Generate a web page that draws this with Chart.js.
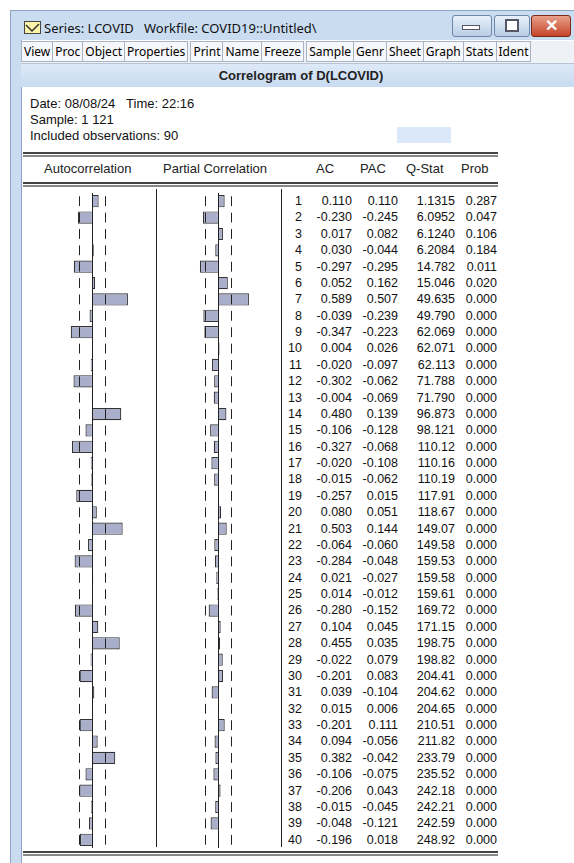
<!DOCTYPE html>
<html><head><meta charset="utf-8">
<script src="https://cdn.jsdelivr.net/npm/chart.js@4"></script>
<style>
body{margin:0;width:574px;height:863px;background:#fff;font-family:"Liberation Sans",Arial,sans-serif;position:relative;overflow:hidden}
.abs{position:absolute}
#frame{left:10px;top:10px;width:570px;height:860px;background:#c9dcf0;border:1px solid #8aa4c4}
#inner{left:21px;top:40px;width:560px;height:830px;background:#fff;border-left:1px solid #8aa4c4}
#title{left:44px;top:19px;font-family:"Noto Sans",sans-serif;font-size:13px;color:#111}
#tool{left:21px;top:41px;width:560px;height:22px;background:#eef1f6;border-bottom:1px solid #b8c4d4;font-family:"Noto Sans",sans-serif;font-size:12px}
#tool span{display:inline-block;border:1px solid #a8b4c4;padding:1px 2px;margin-right:-1px;height:17px;line-height:17px;background:#f6f7fa}
#head{left:21px;top:64px;width:560px;height:23px;background:linear-gradient(#dde9f7,#c8dbf1);font-weight:bold;font-size:13px;text-align:center;line-height:23px;color:#222}
.info{font-size:13px;left:30px;color:#111}
.dl{left:23px;width:475px;height:1px;border-top:2px solid #444;border-bottom:2px solid #888;height:1px}
.hdr{top:161px;font-size:13px;color:#222}
.row{font-size:12.5px;color:#111;text-align:right}
canvas{position:absolute}
</style></head><body>
<div class="abs" id="frame"></div>
<div class="abs" id="inner"></div>
<svg class="abs" style="left:24px;top:21px" width="18" height="14"><rect x="0.5" y="0.5" width="16" height="12" fill="#fbf3a8" stroke="#444"/><polyline points="2,4 8,10 15,3" fill="none" stroke="#333" stroke-width="1.5"/></svg>
<div class="abs" id="title">Series: LCOVID&nbsp;&nbsp;&nbsp;Workfile: COVID19::Untitled\</div>
<div class="abs" style="left:452px;top:15px;width:38px;height:20px;border:1px solid #6d86a8;border-radius:3px;background:linear-gradient(#e8f0fa,#b9cde6)"></div>
<div class="abs" style="left:462px;top:25px;width:16px;height:3px;background:#fff;border:1px solid #556"></div>
<div class="abs" style="left:494px;top:15px;width:34px;height:20px;border:1px solid #6d86a8;border-radius:3px;background:linear-gradient(#e8f0fa,#b9cde6)"></div>
<div class="abs" style="left:505px;top:19px;width:10px;height:9px;border:2px solid #556;background:#fff"></div>
<div class="abs" style="left:531px;top:15px;width:38px;height:20px;border:1px solid #7a2a1a;border-radius:3px;background:linear-gradient(#e8a08a,#c5442a);color:#fff;font-weight:bold;font-size:16px;text-align:center;line-height:20px">✕</div>
<div class="abs" id="tool"><span>View</span><span>Proc</span><span>Object</span><span>Properties</span>&nbsp;<span>Print</span><span>Name</span><span>Freeze</span>&nbsp;<span>Sample</span><span>Genr</span><span>Sheet</span><span>Graph</span><span>Stats</span><span>Ident</span></div>
<div class="abs" id="head">Correlogram of D(LCOVID)</div>
<div class="abs info" style="top:96px">Date: 08/08/24&nbsp;&nbsp;&nbsp;Time: 22:16</div>
<div class="abs info" style="top:112px">Sample: 1 121</div>
<div class="abs info" style="top:128px">Included observations: 90</div>
<div class="abs" style="left:397px;top:127px;width:54px;height:16px;background:#dbe7fa"></div>
<div class="abs dl" style="top:152px"></div>
<div class="abs dl" style="top:182px"></div>
<div class="abs dl" style="top:851px"></div>
<div class="abs hdr" style="left:44px">Autocorrelation</div>
<div class="abs hdr" style="left:163px">Partial Correlation</div>
<div class="abs hdr" style="left:316px">AC</div>
<div class="abs hdr" style="left:360px">PAC</div>
<div class="abs hdr" style="left:406px">Q-Stat</div>
<div class="abs hdr" style="left:461px">Prob</div>
<div class="abs" style="left:156px;top:189px;width:1px;height:658px;background:#222"></div>
<div class="abs" style="left:281px;top:189px;width:1px;height:658px;background:#222"></div>
<canvas id="acChart" style="left:40px;top:193px" width="110" height="655"></canvas>
<canvas id="pacChart" style="left:166px;top:193px" width="110" height="655"></canvas>
<div id="rows"></div>
<script>
// data
const lags = Array.from({length: 40}, (_, i) => i + 1);
const acValues = [0.110,-0.230,0.017,0.030,-0.297,0.052,0.589,-0.039,-0.347,0.004,-0.020,-0.302,-0.004,0.480,-0.106,-0.327,-0.020,-0.015,-0.257,0.080,0.503,-0.064,-0.284,0.021,0.014,-0.280,0.104,0.455,-0.022,-0.201,0.039,0.015,-0.201,0.094,0.382,-0.106,-0.206,-0.015,-0.048,-0.196];
const pacValues = [0.110,-0.245,0.082,-0.044,-0.295,0.162,0.507,-0.239,-0.223,0.026,-0.097,-0.062,-0.069,0.139,-0.128,-0.068,-0.108,-0.062,0.015,0.051,0.144,-0.060,-0.048,-0.027,-0.012,-0.152,0.045,0.035,0.079,0.083,-0.104,0.006,0.111,-0.056,-0.042,-0.075,0.043,-0.045,-0.121,0.018];
const qStats = ['1.1315','6.0952','6.1240','6.2084','14.782','15.046','49.635','49.790','62.069','62.071','62.113','71.788','71.790','96.873','98.121','110.12','110.16','110.19','117.91','118.67','149.07','149.58','159.53','159.58','159.61','169.72','171.15','198.75','198.82','204.41','204.62','204.65','210.51','211.82','233.79','235.52','242.18','242.21','242.59','248.92'];
const probs = ['0.287','0.047','0.106','0.184','0.011','0.020'].concat(Array(34).fill('0.000'));
const nObs = 90;
const band = 2 / Math.sqrt(nObs);

// band dashes and zero line, one short mark per row
const bandPlugin = {
  id: 'bands',
  afterDatasetsDraw(chart) {
    const c = chart.ctx, x = chart.scales.x, y = chart.scales.y;
    const step = y.getPixelForValue(1) - y.getPixelForValue(0);
    c.save();
    c.strokeStyle = '#222';
    c.lineWidth = 1;
    c.beginPath();
    const x0 = Math.round(x.getPixelForValue(0)) + 0.5;
    c.moveTo(x0, y.top); c.lineTo(x0, y.bottom);
    lags.forEach((l, i) => {
      const py = y.getPixelForValue(i);
      [-band, band].forEach(b => {
        const px = Math.round(x.getPixelForValue(b)) + 0.5;
        c.moveTo(px, py - step * 0.3); c.lineTo(px, py + step * 0.3);
      });
    });
    c.stroke();
    c.restore();
  }
};

function makeChart(id, values) {
  new Chart(document.getElementById(id), {
    type: 'bar',
    data: {
      labels: lags,
      datasets: [{
        data: values,
        backgroundColor: '#a9aecb',
        borderColor: '#333',
        borderWidth: 1.2,
        barPercentage: 0.75,
        categoryPercentage: 1
      }]
    },
    options: {
      indexAxis: 'y',
      responsive: false,
      animation: false,
      layout: {padding: 0},
      scales: {
        x: {min: -0.85, max: 0.95, display: false},
        y: {display: false}
      },
      plugins: {legend: {display: false}, tooltip: {enabled: false}}
    },
    plugins: [bandPlugin]
  });
}
makeChart('acChart', acValues);
makeChart('pacChart', pacValues);

// numeric columns
const rows = document.getElementById('rows');
const cols = [[lags, 302], [acValues.map(v => v.toFixed(3)), 352], [pacValues.map(v => v.toFixed(3)), 398], [qStats, 455], [probs, 497]];
lags.forEach((l, i) => {
  const top = 193 + i * 16.375 + 1;
  cols.forEach(([arr, right]) => {
    const d = document.createElement('div');
    d.className = 'abs row';
    d.style.top = top + 'px';
    d.style.right = (574 - right) + 'px';
    d.textContent = arr[i];
    rows.appendChild(d);
  });
});
</script>
</body></html>
